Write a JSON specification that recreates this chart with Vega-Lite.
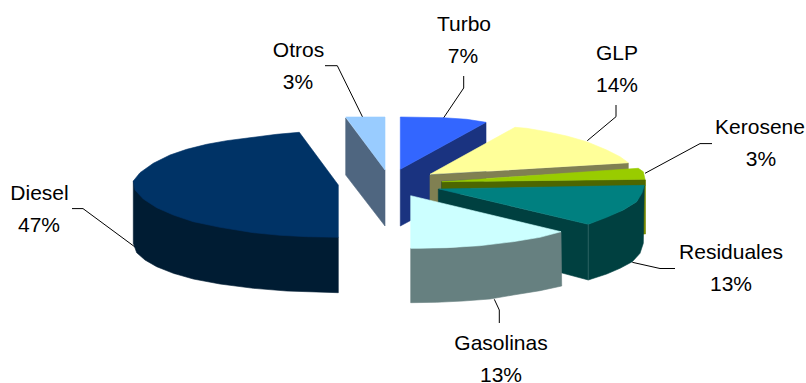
{
  "$schema": "https://vega.github.io/schema/vega-lite/v6.json",
  "width": 806,
  "height": 383,
  "autosize": {"type": "none"},
  "padding": 0,
  "background": "white",
  "view": {"stroke": null},
  "config": {"font": "Liberation Sans"},
  "datasets": {
    "leaders": [
      {"to":"Otros","seq":1,"x":325,"y":65.7},{"to":"Otros","seq":2,"x":337.3,"y":65.7},{"to":"Otros","seq":3,"x":362.7,"y":117.3},
      {"to":"Turbo","seq":1,"x":463.7,"y":76},{"to":"Turbo","seq":2,"x":463.7,"y":88},{"to":"Turbo","seq":3,"x":443.3,"y":118.3},
      {"to":"GLP","seq":1,"x":616,"y":105},{"to":"GLP","seq":2,"x":616,"y":116.7},{"to":"GLP","seq":3,"x":587.3,"y":140.7},
      {"to":"Kerosene","seq":1,"x":645,"y":173.3},{"to":"Kerosene","seq":2,"x":700,"y":143.6},{"to":"Kerosene","seq":3,"x":712,"y":143.6},
      {"to":"Residuales","seq":1,"x":632.3,"y":262.3},{"to":"Residuales","seq":2,"x":660,"y":268.5},{"to":"Residuales","seq":3,"x":675,"y":268.5},
      {"to":"Gasolinas","seq":1,"x":494.3,"y":299.3},{"to":"Gasolinas","seq":2,"x":499.3,"y":310},{"to":"Gasolinas","seq":3,"x":499.3,"y":323},
      {"to":"Diesel","seq":1,"x":72,"y":208.6},{"to":"Diesel","seq":2,"x":83,"y":208.6},{"to":"Diesel","seq":3,"x":135,"y":247}
    ],
    "faces": [
      {"face":"Otros side","seq":1,"x":345.7,"y":118},{"face":"Otros side","seq":2,"x":385,"y":170},{"face":"Otros side","seq":3,"x":385,"y":226},{"face":"Otros side","seq":4,"x":345.7,"y":175},
      {"face":"Otros top","seq":1,"x":345.7,"y":117},{"face":"Otros top","seq":2,"x":385,"y":117},{"face":"Otros top","seq":3,"x":385,"y":170},

      {"face":"Diesel side","seq":1,"x":133.3,"y":181},{"face":"Diesel side","seq":2,"x":133.3,"y":243.3},{"face":"Diesel side","seq":3,"x":136.7,"y":252.7},{"face":"Diesel side","seq":4,"x":145,"y":260},{"face":"Diesel side","seq":5,"x":156.7,"y":266.7},{"face":"Diesel side","seq":6,"x":173.3,"y":273.3},{"face":"Diesel side","seq":7,"x":193.3,"y":279},{"face":"Diesel side","seq":8,"x":220,"y":284},{"face":"Diesel side","seq":9,"x":253.3,"y":288.3},{"face":"Diesel side","seq":10,"x":286.7,"y":291},{"face":"Diesel side","seq":11,"x":338.3,"y":292.7},{"face":"Diesel side","seq":12,"x":338.3,"y":237.3},
      {"face":"Diesel top","seq":1,"x":299.3,"y":132.3},{"face":"Diesel top","seq":2,"x":276.7,"y":134.3},{"face":"Diesel top","seq":3,"x":253.3,"y":137.3},{"face":"Diesel top","seq":4,"x":226.7,"y":140.7},{"face":"Diesel top","seq":5,"x":206.7,"y":144.3},{"face":"Diesel top","seq":6,"x":186.7,"y":149.3},{"face":"Diesel top","seq":7,"x":170,"y":155},{"face":"Diesel top","seq":8,"x":153.3,"y":163.3},{"face":"Diesel top","seq":9,"x":140,"y":172.7},{"face":"Diesel top","seq":10,"x":133.3,"y":181},{"face":"Diesel top","seq":11,"x":135,"y":190},{"face":"Diesel top","seq":12,"x":143.3,"y":199},{"face":"Diesel top","seq":13,"x":156.7,"y":207.7},{"face":"Diesel top","seq":14,"x":173.3,"y":215},{"face":"Diesel top","seq":15,"x":193.3,"y":221.7},{"face":"Diesel top","seq":16,"x":220,"y":227.3},{"face":"Diesel top","seq":17,"x":253.3,"y":232.7},{"face":"Diesel top","seq":18,"x":280,"y":235.3},{"face":"Diesel top","seq":19,"x":306.7,"y":236.7},{"face":"Diesel top","seq":20,"x":338.3,"y":237.3},{"face":"Diesel top","seq":21,"x":338.3,"y":185},

      {"face":"Turbo side","seq":1,"x":400.3,"y":169.3},{"face":"Turbo side","seq":2,"x":486,"y":122.3},{"face":"Turbo side","seq":3,"x":486,"y":180},{"face":"Turbo side","seq":4,"x":400.3,"y":226},
      {"face":"Turbo top","seq":1,"x":400.3,"y":117},{"face":"Turbo top","seq":2,"x":443.3,"y":117.7},{"face":"Turbo top","seq":3,"x":466.7,"y":119.3},{"face":"Turbo top","seq":4,"x":486,"y":122.3},{"face":"Turbo top","seq":5,"x":400.3,"y":169.3},

      {"face":"GLP side","seq":1,"x":430,"y":175},{"face":"GLP side","seq":2,"x":628.3,"y":163},{"face":"GLP side","seq":3,"x":628.3,"y":170},{"face":"GLP side","seq":4,"x":441,"y":181},{"face":"GLP side","seq":5,"x":441,"y":204},{"face":"GLP side","seq":6,"x":430,"y":204},
      {"face":"GLP top","seq":1,"x":430,"y":174.3},{"face":"GLP top","seq":2,"x":515,"y":127.3},{"face":"GLP top","seq":3,"x":526.7,"y":128.3},{"face":"GLP top","seq":4,"x":546.7,"y":131.7},{"face":"GLP top","seq":5,"x":566.7,"y":136},{"face":"GLP top","seq":6,"x":586.7,"y":141.7},{"face":"GLP top","seq":7,"x":606.7,"y":150},{"face":"GLP top","seq":8,"x":620,"y":156.7},{"face":"GLP top","seq":9,"x":628.3,"y":162.7},{"face":"GLP top","seq":10,"x":486.7,"y":171},

      {"face":"Kerosene edge","seq":1,"x":640,"y":180},{"face":"Kerosene edge","seq":2,"x":645.5,"y":180},{"face":"Kerosene edge","seq":3,"x":645.5,"y":234},{"face":"Kerosene edge","seq":4,"x":640,"y":234},
      {"face":"Kerosene side","seq":1,"x":441.7,"y":181.7},{"face":"Kerosene side","seq":2,"x":645,"y":179.3},{"face":"Kerosene side","seq":3,"x":645,"y":186},{"face":"Kerosene side","seq":4,"x":441.7,"y":189},
      {"face":"Kerosene top","seq":1,"x":441.7,"y":181.7},{"face":"Kerosene top","seq":2,"x":628,"y":169},{"face":"Kerosene top","seq":3,"x":638.3,"y":168.3},{"face":"Kerosene top","seq":4,"x":643.3,"y":171.7},{"face":"Kerosene top","seq":5,"x":645,"y":179.3},

      {"face":"Residuales side","seq":1,"x":438.3,"y":189},{"face":"Residuales side","seq":2,"x":588.3,"y":224.3},{"face":"Residuales side","seq":3,"x":623.3,"y":210},{"face":"Residuales side","seq":4,"x":636.7,"y":201.7},{"face":"Residuales side","seq":5,"x":644.3,"y":186},{"face":"Residuales side","seq":6,"x":643.3,"y":243.3},{"face":"Residuales side","seq":7,"x":640,"y":253.3},{"face":"Residuales side","seq":8,"x":632.3,"y":261.7},{"face":"Residuales side","seq":9,"x":620,"y":268.3},{"face":"Residuales side","seq":10,"x":606.7,"y":274},{"face":"Residuales side","seq":11,"x":588.3,"y":280},{"face":"Residuales side","seq":12,"x":438.3,"y":240},
      {"face":"Residuales top","seq":1,"x":439.3,"y":189},{"face":"Residuales top","seq":2,"x":644.3,"y":185.3},{"face":"Residuales top","seq":3,"x":642,"y":193},{"face":"Residuales top","seq":4,"x":636.7,"y":201.7},{"face":"Residuales top","seq":5,"x":623.3,"y":210},{"face":"Residuales top","seq":6,"x":606.7,"y":217.3},{"face":"Residuales top","seq":7,"x":588.3,"y":224.3},
      {"face":"Residuales seam","seq":1,"x":588.3,"y":224.3},{"face":"Residuales seam","seq":2,"x":588.3,"y":280},

      {"face":"Gasolinas side","seq":1,"x":410.7,"y":248.3},{"face":"Gasolinas side","seq":2,"x":446.7,"y":247.7},{"face":"Gasolinas side","seq":3,"x":480,"y":245.7},{"face":"Gasolinas side","seq":4,"x":513.3,"y":241.7},{"face":"Gasolinas side","seq":5,"x":540,"y":237.3},{"face":"Gasolinas side","seq":6,"x":561,"y":231.7},{"face":"Gasolinas side","seq":7,"x":561.7,"y":286},{"face":"Gasolinas side","seq":8,"x":540,"y":290.7},{"face":"Gasolinas side","seq":9,"x":513.3,"y":295},{"face":"Gasolinas side","seq":10,"x":490,"y":299},{"face":"Gasolinas side","seq":11,"x":463.3,"y":301},{"face":"Gasolinas side","seq":12,"x":436.7,"y":302.3},{"face":"Gasolinas side","seq":13,"x":410.7,"y":302.7},
      {"face":"Gasolinas top","seq":1,"x":410.7,"y":195.7},{"face":"Gasolinas top","seq":2,"x":561,"y":231.7},{"face":"Gasolinas top","seq":3,"x":540,"y":237.3},{"face":"Gasolinas top","seq":4,"x":513.3,"y":241.7},{"face":"Gasolinas top","seq":5,"x":480,"y":245.7},{"face":"Gasolinas top","seq":6,"x":446.7,"y":247.7},{"face":"Gasolinas top","seq":7,"x":420,"y":248.3},{"face":"Gasolinas top","seq":8,"x":410.7,"y":248.3}
    ],
    "labels": [
      {"text":"Turbo","x":464,"y":31},{"text":"7%","x":463,"y":63},
      {"text":"Otros","x":298.5,"y":57},{"text":"3%","x":298,"y":89},
      {"text":"GLP","x":617,"y":60},{"text":"14%","x":617,"y":92},
      {"text":"Kerosene","x":760,"y":134},{"text":"3%","x":761,"y":166},
      {"text":"Diesel","x":39.5,"y":200},{"text":"47%","x":39,"y":232},
      {"text":"Residuales","x":731,"y":259},{"text":"13%","x":731,"y":291},
      {"text":"Gasolinas","x":501,"y":350},{"text":"13%","x":501,"y":382}
    ]
  },
  "encoding": {
    "x": {"field": "x", "type": "quantitative", "axis": null, "scale": {"domain": [0, 806], "nice": false, "zero": false}},
    "y": {"field": "y", "type": "quantitative", "axis": null, "scale": {"domain": [0, 383], "reverse": true, "nice": false, "zero": false}}
  },
  "layer": [
    {
      "data": {"name": "leaders"},
      "mark": {"type": "line", "color": "#000000", "strokeWidth": 1},
      "encoding": {
        "detail": {"field": "to"},
        "order": {"field": "seq", "type": "quantitative"}
      }
    },
    {
      "data": {"name": "faces"},
      "mark": {"type": "line", "strokeWidth": 0.6, "interpolate": "linear-closed"},
      "encoding": {
        "order": {"field": "seq", "type": "quantitative"},
        "color": {
          "field": "face", "type": "nominal", "legend": null,
          "scale": {
            "domain": ["Otros side","Otros top","Diesel side","Diesel top","Turbo side","Turbo top","GLP side","GLP top","Kerosene edge","Kerosene side","Kerosene top","Residuales side","Residuales top","Residuales seam","Gasolinas side","Gasolinas top"],
            "range": ["#4f6680","#99ccff","#001c33","#003366","#1a3380","#3366ff","#808052","#ffff99","#7a8a00","#4d6600","#99cc00","#004040","#008080","#2f6666","#668080","#ccffff"]
          }
        },
        "fill": {
          "field": "face", "type": "nominal", "legend": null,
          "scale": {
            "domain": ["Otros side","Otros top","Diesel side","Diesel top","Turbo side","Turbo top","GLP side","GLP top","Kerosene edge","Kerosene side","Kerosene top","Residuales side","Residuales top","Residuales seam","Gasolinas side","Gasolinas top"],
            "range": ["#4f6680","#99ccff","#001c33","#003366","#1a3380","#3366ff","#808052","#ffff99","#7a8a00","#4d6600","#99cc00","#004040","#008080","#2f6666","#668080","#ccffff"]
          }
        }
      }
    },
    {
      "data": {"name": "labels"},
      "mark": {"type": "text", "fontSize": 21, "align": "center", "baseline": "alphabetic", "color": "#000000", "font": "Liberation Sans"},
      "encoding": {"text": {"field": "text", "type": "nominal"}}
    }
  ]
}
